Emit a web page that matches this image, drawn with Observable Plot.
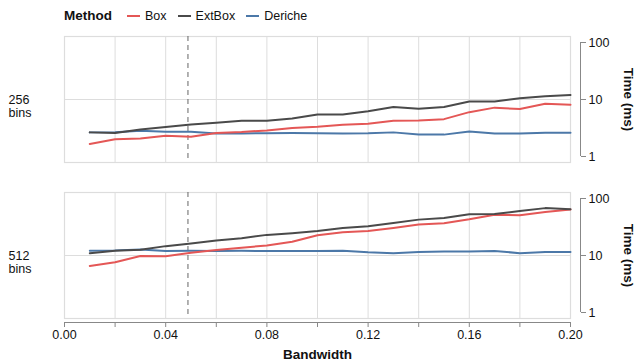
<!DOCTYPE html>
<html>
<head>
<meta charset="utf-8">
<script src="https://cdn.jsdelivr.net/npm/d3@7"></script>
<script src="https://cdn.jsdelivr.net/npm/@observablehq/plot@0.6"></script>
<style>
  html, body { margin: 0; padding: 0; background: #fff; }
  body { width: 637px; height: 362px; overflow: hidden; font-family: "Liberation Sans", Arial, sans-serif; }
  #legend { height: 28px; display: flex; align-items: center; padding-left: 64px; box-sizing: border-box; font-size: 12.5px; color: #111; padding-top: 3px; }
  #legend .title { font-weight: bold; font-size: 13.5px; margin-right: 15px; }
  #legend .item { display: flex; align-items: center; margin-right: 11px; }
  #legend .sw { width: 13px; height: 2px; margin-right: 5px; }
  svg { display: block; }
</style>
</head>
<body>
<div id="legend"></div>
<div id="chart"></div>
<script>
const bandwidth = [0.01,0.02,0.03,0.04,0.05,0.06,0.07,0.08,0.09,0.10,0.11,0.12,0.13,0.14,0.15,0.16,0.17,0.18,0.19,0.20];
const binLabels = ["256 bins", "512 bins"];
const methods = ["Box", "ExtBox", "Deriche"];
const methodColors = ["#e45756", "#4a4a4a", "#4c78a8"];

const box256 = [1.66,2.0,2.06,2.32,2.23,2.58,2.69,2.87,3.16,3.32,3.6,3.75,4.23,4.28,4.52,6.0,7.2,6.8,8.45,8.1];
const extbox256 = [2.65,2.58,2.98,3.28,3.65,3.9,4.23,4.23,4.63,5.45,5.44,6.2,7.4,6.9,7.4,9.2,9.2,10.5,11.4,12.0];
const deriche256 = [2.65,2.67,2.83,2.72,2.72,2.54,2.54,2.56,2.58,2.56,2.54,2.56,2.65,2.44,2.42,2.75,2.54,2.54,2.6,2.6];

const box512 = [6.57,7.6,9.8,9.7,11.2,12.5,13.7,15.0,17.4,22.7,25.6,27,30.5,34.9,36.7,43.1,52,50.6,57.8,64.4];
const extbox512 = [11.0,12.1,12.6,14.6,16.3,18.4,20.1,23.0,24.6,26.8,30.5,32.6,37.2,42.6,45.5,52.7,53.4,60.2,67.8,65];
const deriche512 = [12.1,12.3,12.8,12.0,12.1,12.0,12.1,12.0,12.0,12.0,12.1,11.4,11.0,11.5,11.7,11.8,12.0,11.0,11.5,11.5];

const cutoff = [0.0488];
const xTicks = [0,0.02,0.04,0.06,0.08,0.10,0.12,0.14,0.16,0.18,0.20];
const yTicks = [1, 10, 100];
const yGrid = [10];

const series = [
  {bins: "256 bins", method: "Deriche", values: deriche256},
  {bins: "256 bins", method: "Box", values: box256},
  {bins: "256 bins", method: "ExtBox", values: extbox256},
  {bins: "512 bins", method: "Deriche", values: deriche512},
  {bins: "512 bins", method: "Box", values: box512},
  {bins: "512 bins", method: "ExtBox", values: extbox512}
];
const data = series.flatMap(s => s.values.map((v, i) => ({bins: s.bins, method: s.method, bandwidth: bandwidth[i], time: v})));

// legend
const legend = document.getElementById("legend");
legend.innerHTML = `<span class="title">Method</span>` + methods.map((m, i) =>
  `<span class="item"><span class="sw" style="background:${methodColors[i]}"></span>${m}</span>`).join("");

const chart = Plot.plot({
  width: 637,
  height: 334,
  marginLeft: 64,
  marginRight: 67,
  marginTop: 7,
  marginBottom: 44,
  style: {fontFamily: '"Liberation Sans", Arial, sans-serif', fontSize: "12.5px", color: "#111"},
  x: {domain: [0, 0.2]},
  y: {type: "log", domain: [1, 100], insetTop: 6, insetBottom: 6},
  fy: {domain: binLabels, paddingInner: 0.194, paddingOuter: 0, axis: null},
  color: {domain: methods, range: methodColors},
  marks: [
    Plot.ruleX(xTicks.slice(1, -1), {stroke: "#ddd", strokeWidth: 1}),
    Plot.ruleY(yGrid, {stroke: "#ddd", strokeWidth: 1}),
    Plot.frame({stroke: "#ddd", strokeWidth: 1.2}),
    Plot.ruleX(cutoff, {stroke: "#666", strokeDasharray: "5,4", strokeWidth: 1}),
    Plot.line(data, {x: "bandwidth", y: "time", z: "method", stroke: "method", fy: "bins", strokeWidth: 2}),
    // right y axis
    Plot.ruleX([0.2], {y1: 1, y2: 100, dx: 10, stroke: "#888"}),
    Plot.axisY(yTicks, {anchor: "right", tickFormat: d => String(d), tickSize: 5, tickPadding: 3, dx: 10, stroke: "#888", fill: "#111", fontSize: 12.5, label: null}),
    Plot.text(["Time (ms)"], {frameAnchor: "right", dx: 58, rotate: 90, textAnchor: "middle", lineAnchor: "middle", fontWeight: "bold", fontSize: 13.5, fill: "#111"}),
    // facet labels
    Plot.text(binLabels, {fy: d => d, text: d => d.split(" ").join("\n"), frameAnchor: "left", textAnchor: "start", dx: -56, dy: 7, lineAnchor: "middle", fontSize: 12.5, fill: "#111"}),
    // bottom x axis
    Plot.ruleY([1], {fy: () => "512 bins", x1: 0, x2: 0.2, dy: 10, stroke: "#888"}),
    Plot.axisX(xTicks, {anchor: "bottom", tickFormat: d => (Math.round(d * 100) % 4 === 0 ? d.toFixed(2) : ""), tickSize: 5, tickPadding: 3, dy: 4, stroke: "#888", fill: "#111", fontSize: 12.5, label: null}),
    Plot.text(["Bandwidth"], {fy: () => "512 bins", frameAnchor: "bottom", dy: 36, lineAnchor: "middle", fontWeight: "bold", fontSize: 13.5, fill: "#111"})
  ]
});
document.getElementById("chart").appendChild(chart);
</script>
</body>
</html>
